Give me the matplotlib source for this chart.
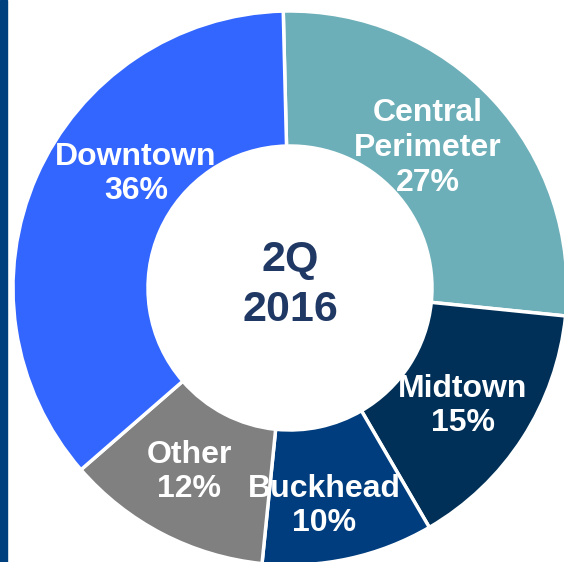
import matplotlib
matplotlib.use('Agg')
import matplotlib.pyplot as plt
from matplotlib.patches import Rectangle

# data
segments = ["Central\nPerimeter", "Midtown", "Buckhead", "Other", "Downtown"]
shares = [27, 15, 10, 12, 36]
colors = ["#6dafb8", "#003057", "#003d7e", "#808080", "#3366ff"]
center_text = "2Q\n2016"

# label centres in pixels (x from left, y from top)
label_xy = [(428, 148), (463, 406), (324, 506), (189, 472), (136, 174)]

W, H = 564, 562
fig = plt.figure(figsize=(W / 100, H / 100), dpi=100)
ax = fig.add_axes([0, 0, 1, 1])

cx, cy, r_out, r_in = 290, H - 288, 277, 142
wedges, _ = ax.pie(shares, colors=colors, startangle=91.4, counterclock=False,
                   center=(cx, cy), radius=r_out, frame=True,
                   wedgeprops=dict(width=r_out - r_in, edgecolor="white", linewidth=2.5))

for name, val, (x, y) in zip(segments, shares, label_xy):
    ax.text(x, H - y, f"{name}\n{val}%", ha="center", va="center",
            color="white", fontsize=23, fontweight="bold",
            family="Liberation Sans", linespacing=1.2)

ax.text(cx, cy + 3, center_text, ha="center", va="center", color="#203864",
        fontsize=31, fontweight="bold", family="Liberation Sans", linespacing=1.3)

# dark bar on the left edge
ax.add_patch(Rectangle((0, 0), 7, H, color="#01407e", zorder=5))

ax.set_xlim(0, W)
ax.set_ylim(0, H)
ax.set_aspect("equal")
ax.axis("off")

fig.savefig("out.png", dpi=100)
plt.close(fig)
